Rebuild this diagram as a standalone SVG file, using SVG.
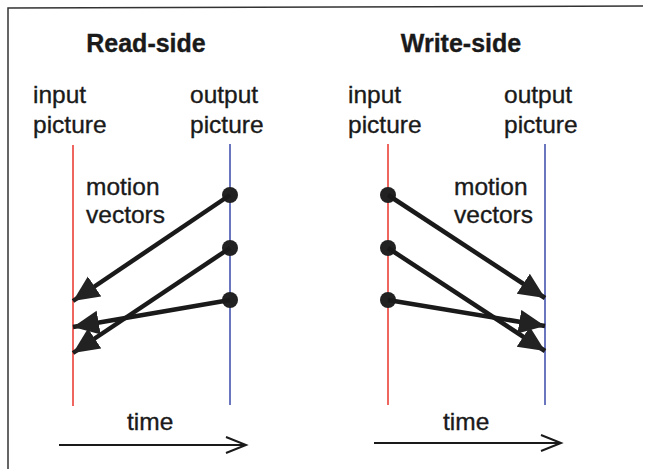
<svg xmlns="http://www.w3.org/2000/svg" width="652" height="469" viewBox="0 0 652 469">
<defs>
<style>
text{font-family:"Liberation Sans",Arial,sans-serif;fill:#1a1a1a;stroke:#1a1a1a;stroke-width:0.35}
.t{font-size:25px;font-weight:bold}
.l{font-size:24.5px}
.in{stroke:#e8332a;stroke-width:1.5;fill:none}
.out{stroke:#3848a8;stroke-width:1.5;fill:none}
.mv{stroke:#1a1a1a;stroke-width:4.5;fill:none}
.dot{fill:#222}
.time{stroke:#1a1a1a;stroke-width:2;fill:none}
.frame{stroke:#333;stroke-width:1.5;fill:none}
</style>
<marker id="ah" markerUnits="userSpaceOnUse" markerWidth="28" markerHeight="26" refX="26" refY="12" orient="auto">
<path d="M0,0 L26,12 L0,24 Z" fill="#222"/>
</marker>
<marker id="oh" markerUnits="userSpaceOnUse" markerWidth="24" markerHeight="20" refX="21" refY="9" orient="auto">
<path d="M1,1 L21,9 L1,17" fill="none" stroke="#1a1a1a" stroke-width="2"/>
</marker>
</defs>
<rect width="652" height="469" fill="#fff"/>
<path class="frame" d="M8,469 L8,8 L643,6"/>

<g id="read-side">
<text class="t" x="146" y="52" text-anchor="middle">Read-side</text>
<g id="read-input">
<text class="l" x="33" y="103">input</text>
<text class="l" x="33" y="133">picture</text>
<line class="in" x1="73" y1="145" x2="73" y2="406"/>
</g>
<g id="read-output">
<text class="l" x="190" y="103">output</text>
<text class="l" x="190" y="133">picture</text>
<line class="out" x1="230" y1="144" x2="230" y2="405"/>
<circle class="dot" cx="230" cy="195" r="8"/>
<circle class="dot" cx="230" cy="248" r="8"/>
<circle class="dot" cx="230" cy="300" r="8"/>
</g>
<g id="read-label">
<text class="l" x="86" y="195">motion</text>
<text class="l" x="86" y="223">vectors</text>
</g>
<g id="read-time">
<text class="l" x="127" y="430">time</text>
</g>
</g>

<g id="write-side">
<text class="t" x="461" y="52" text-anchor="middle">Write-side</text>
<g id="write-input">
<text class="l" x="348" y="103">input</text>
<text class="l" x="348" y="133">picture</text>
<line class="in" x1="388" y1="144" x2="388" y2="405"/>
<circle class="dot" cx="388" cy="195" r="8"/>
<circle class="dot" cx="388" cy="248" r="8"/>
<circle class="dot" cx="388" cy="300" r="8"/>
</g>
<g id="write-output">
<text class="l" x="504" y="103">output</text>
<text class="l" x="504" y="133">picture</text>
<line class="out" x1="545" y1="144" x2="545" y2="405"/>
</g>
<g id="write-label">
<text class="l" x="454" y="195">motion</text>
<text class="l" x="454" y="223">vectors</text>
</g>
<g id="write-time">
<text class="l" x="443" y="430">time</text>
</g>
</g>

<g id="connectors">
<line class="mv" x1="230" y1="195" x2="73" y2="301" marker-end="url(#ah)"/>
<line class="mv" x1="230" y1="248" x2="73" y2="353" marker-end="url(#ah)"/>
<line class="mv" x1="230" y1="300" x2="73" y2="327" marker-end="url(#ah)"/>
<line class="mv" x1="388" y1="195" x2="545" y2="298" marker-end="url(#ah)"/>
<line class="mv" x1="388" y1="248" x2="545" y2="351" marker-end="url(#ah)"/>
<line class="mv" x1="388" y1="300" x2="545" y2="326" marker-end="url(#ah)"/>
<line class="time" x1="59" y1="445" x2="246" y2="445" marker-end="url(#oh)"/>
<line class="time" x1="374" y1="443" x2="561" y2="443" marker-end="url(#oh)"/>
</g>
</svg>
